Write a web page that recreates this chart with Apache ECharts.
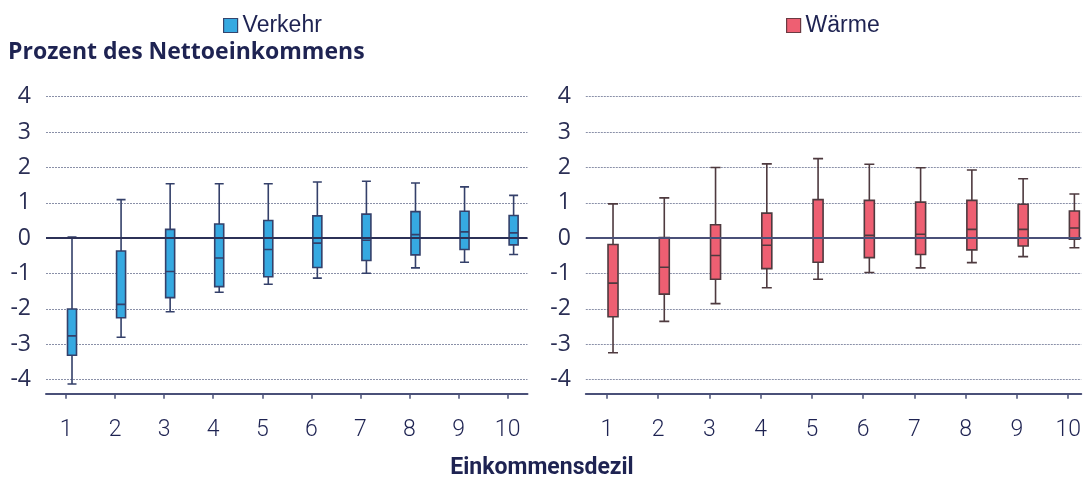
<!DOCTYPE html>
<html>
<head>
<meta charset="utf-8">
<script src="https://cdn.jsdelivr.net/npm/echarts@6/dist/echarts.min.js"></script>
<style>
  html, body { margin: 0; padding: 0; background: #fff; }
  #chart { width: 1084px; height: 479px; }
</style>
</head>
<body>
<div id="chart"></div>
<script>
// Einkommensdezile
const deciles = [1, 2, 3, 4, 5, 6, 7, 8, 9, 10];
const yTicks = [-4, -3, -2, -1, 0, 1, 2, 3, 4];

// Verkehr: [min, Q1, Median, Q3, max] je Dezil
const verkehrMin = [-4.12, -2.80, -2.08, -1.53, -1.30, -1.13, -0.99, -0.84, -0.68, -0.46];
const verkehrQ1  = [-3.31, -2.25, -1.68, -1.37, -1.09, -0.83, -0.63, -0.47, -0.32, -0.19];
const verkehrMed = [-2.76, -1.87, -0.94, -0.56, -0.32, -0.14, -0.06, 0.10, 0.18, 0.15];
const verkehrQ3  = [-2.00, -0.36, 0.25, 0.40, 0.50, 0.63, 0.68, 0.75, 0.76, 0.64];
const verkehrMax = [0.03, 1.09, 1.54, 1.54, 1.54, 1.59, 1.61, 1.56, 1.45, 1.21];

// Wärme
const waermeMin = [-3.24, -2.35, -1.85, -1.40, -1.16, -0.97, -0.84, -0.69, -0.52, -0.27];
const waermeQ1  = [-2.22, -1.58, -1.16, -0.86, -0.68, -0.55, -0.46, -0.33, -0.22, -0.03];
const waermeMed = [-1.27, -0.82, -0.49, -0.20, 0.00, 0.08, 0.11, 0.25, 0.25, 0.29];
const waermeQ3  = [-0.18, 0.02, 0.38, 0.71, 1.09, 1.07, 1.02, 1.07, 0.96, 0.77];
const waermeMax = [0.97, 1.14, 2.00, 2.10, 2.25, 2.09, 1.99, 1.93, 1.68, 1.25];

const navy = '#1e2352';
const blue = '#36a9e1';
const red = '#ee5f72';

function boxData(mn, q1, md, q3, mx) {
  return deciles.map((d, i) => [d, mn[i], q1[i], md[i], q3[i], mx[i]]);
}

const chart = echarts.init(document.getElementById('chart'));

function labelAxis(grid, min, max) {
  return {
    type: 'value', gridIndex: grid, min: min, max: max, position: 'bottom', offset: 14,
    axisLine: { show: true, onZero: false, lineStyle: { color: '#4a5078', width: 2 } },
    axisTick: { show: true, length: 5, customValues: deciles, lineStyle: { color: '#4a5078', width: 1.5 } },
    axisLabel: {
      customValues: deciles, margin: 25, color: navy,
      fontFamily: 'Roboto', fontWeight: 300, fontSize: 23
    },
    splitLine: { show: false }
  };
}
function boxAxis(grid, min, max) {
  return { type: 'value', gridIndex: grid, min: min, max: max, show: false, splitLine: { show: false } };
}
function yAx(grid) {
  return {
    type: 'value', gridIndex: grid, min: -4, max: 4, interval: 1,
    axisLine: { show: false }, axisTick: { show: false },
    axisLabel: { color: '#2b2f55', fontFamily: 'Open Sans', fontSize: 23, margin: 15 },
    splitLine: { lineStyle: { color: '#8a90a8', type: [2, 1], width: 1 } }
  };
}
function zeroLine(color) {
  return {
    silent: true, symbol: 'none', label: { show: false },
    lineStyle: { color: color, type: 'solid', width: 2 },
    data: [{ yAxis: 0 }]
  };
}

const option = {
  animation: false,
  title: [
    { text: 'Prozent des Nettoeinkommens', left: 3, top: 36,
      textStyle: { fontFamily: 'Open Sans', fontWeight: 'bold', fontSize: 23, color: navy } },
    { text: 'Einkommensdezil', left: 'center', top: 452,
      textStyle: { fontFamily: 'Roboto', fontWeight: 'bold', fontSize: 23, color: navy } }
  ],
  legend: [
    { data: [{ name: 'Verkehr', itemStyle: { color: blue, borderColor: '#34456e', borderWidth: 1.2 } }],
      left: 218, top: 9, icon: 'rect', itemWidth: 14, itemHeight: 14,
      textStyle: { fontFamily: 'Liberation Sans', fontSize: 23, color: navy } },
    { data: [{ name: 'Wärme', itemStyle: { color: red, borderColor: '#6b3a42', borderWidth: 1.2 } }],
      left: 781, top: 9, icon: 'rect', itemWidth: 14, itemHeight: 14,
      textStyle: { fontFamily: 'Liberation Sans', fontSize: 23, color: navy } }
  ],
  grid: [
    { left: 46, right: 556.5, top: 96.7, bottom: 99.3 },
    { left: 585.8, right: 0, top: 96.7, bottom: 99.3 }
  ],
  xAxis: [
    labelAxis(0, 0.592, 10.405),
    boxAxis(0, 0.47, 10.283),
    labelAxis(1, 0.589, 10.254),
    boxAxis(1, 0.469, 10.134)
  ],
  yAxis: [yAx(0), yAx(1)],
  series: [
    {
      name: 'Verkehr', type: 'boxplot', xAxisIndex: 1, yAxisIndex: 0,
      boxWidth: [9, 9],
      itemStyle: { color: blue, borderColor: '#34406a', borderWidth: 1.6 },
      data: boxData(verkehrMin, verkehrQ1, verkehrMed, verkehrQ3, verkehrMax),
      markLine: zeroLine('#2c3157'),
      z: 3
    },
    {
      name: 'Wärme', type: 'boxplot', xAxisIndex: 3, yAxisIndex: 1,
      boxWidth: [10, 10],
      itemStyle: { color: red, borderColor: '#4e3a3f', borderWidth: 1.6 },
      data: boxData(waermeMin, waermeQ1, waermeMed, waermeQ3, waermeMax),
      markLine: zeroLine('#4a5078'),
      z: 3
    }
  ]
};

chart.setOption(option);
</script>
</body>
</html>
